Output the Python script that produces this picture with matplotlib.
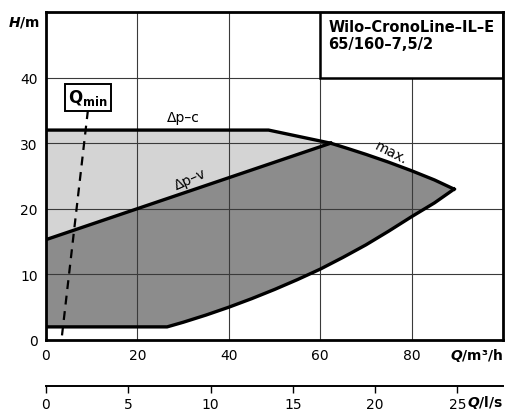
import numpy as np
import matplotlib.pyplot as plt
from matplotlib.patches import Polygon, Rectangle

plt.rcParams['font.family'] = ['DejaVu Sans']
plt.rcParams['mathtext.fontset'] = 'dejavusans'

# curve data (Q in m3/h, H in m)
q_dpc = [0, 48.7, 62.3]
h_dpc = [32, 32, 30]
q_dpv = [0, 62.3]
h_dpv = [15.3, 30]
q_max = [62.3, 66, 70, 75, 80, 85, 89.3]
h_max = [30, 29.2, 28.3, 27.1, 25.8, 24.4, 23]
q_min_curve = [89.3, 85, 80, 75, 70, 65, 60, 55, 50, 45, 40, 35, 30, 26.5, 0]
h_min_curve = [23, 20.9, 18.8, 16.6, 14.5, 12.6, 10.8, 9.2, 7.7, 6.3, 5.0, 3.8, 2.7, 2, 2]
q_qmin = [3.5, 9.2]
h_qmin = [0.7, 35.2]

x_ticks = [0, 20, 40, 60, 80]
y_ticks = [0, 10, 20, 30, 40]
ls_ticks = [0, 5, 10, 15, 20, 25]

title = 'Wilo–CronoLine–IL–E\n65/160–7,5/2'

fig = plt.figure(figsize=(5.07, 4.14), dpi=100)
ax = fig.add_axes([46/507, 1 - 341/414, 457/507, 328/414])
ax.set_xlim(0, 100)
ax.set_ylim(0, 50)

# filled regions
light = list(zip(q_dpc, h_dpc)) + list(zip(q_dpv[::-1], h_dpv[::-1]))
ax.add_patch(Polygon(light, closed=True, facecolor='#d4d4d4', edgecolor='none', zorder=1))
dark = list(zip(q_dpv, h_dpv)) + list(zip(q_max[1:], h_max[1:])) + list(zip(q_min_curve[1:], h_min_curve[1:]))
ax.add_patch(Polygon(dark, closed=True, facecolor='#8c8c8c', edgecolor='none', zorder=1))

# grid
for x in x_ticks[1:]:
    ax.axvline(x, color='#3a3a3a', lw=0.8, zorder=2)
for y in y_ticks[1:]:
    ax.axhline(y, color='#3a3a3a', lw=0.8, zorder=2)

# curves
lw = 2.4
ax.plot(q_dpc, h_dpc, color='black', lw=lw, zorder=3, solid_joinstyle='miter')
ax.plot(q_dpv, h_dpv, color='black', lw=lw, zorder=3)
ax.plot(q_max, h_max, color='black', lw=lw, zorder=3, solid_joinstyle='miter')
ax.plot(q_min_curve, h_min_curve, color='black', lw=lw, zorder=3, solid_joinstyle='round')
ax.plot(q_qmin, h_qmin, color='black', lw=1.6, ls=(0, (4, 3)), zorder=3)

# labels on curves
ax.text(30, 33.0, 'Δp–c', fontsize=10, ha='center', va='bottom', zorder=4)
ax.text(31.5, 24.6, 'Δp–v', fontsize=10, ha='center', va='center', rotation=24, zorder=4)
ax.text(75.5, 28.6, 'max.', fontsize=10, ha='center', va='center', rotation=-27, zorder=4)

# Qmin box
ax.text(9.2, 37.0, r'$\mathbf{Q}_{\mathbf{min}}$', fontsize=12, ha='center', va='center', zorder=5,
        bbox=dict(boxstyle='square,pad=0.2', facecolor='white', edgecolor='black', lw=1.4))

# title box
ax.add_patch(Rectangle((60, 40), 40, 10.5, facecolor='white', edgecolor='black', lw=1.8, zorder=5))
ax.text(61.8, 49.0, title, fontsize=10.5, fontweight='bold', ha='left', va='top',
        linespacing=1.2, zorder=6)

# axes styling
for s in ax.spines.values():
    s.set_linewidth(2)
    s.set_zorder(6)
ax.set_xticks(x_ticks)
ax.set_yticks(y_ticks)
ax.tick_params(length=0, labelsize=10, pad=6)
ax.text(1.0, -0.045, r'$\mathbfit{Q}$/m³/h', transform=ax.transAxes, ha='right', va='center',
        fontsize=10, fontweight='bold')
ax.text(-0.013, 0.972, r'$\mathbfit{H}$/m', transform=ax.transAxes, ha='right', va='center',
        fontsize=10, fontweight='bold')

# secondary axis in l/s
ax2 = fig.add_axes([46/507, 1 - 387/414, 457/507, 0.001])
ax2.set_xlim(0, 100 / 3.6)
ax2.set_ylim(0, 1)
for name in ['top', 'left', 'right']:
    ax2.spines[name].set_visible(False)
ax2.spines['bottom'].set_linewidth(1.4)
ax2.set_yticks([])
ax2.set_xticks(ls_ticks)
ax2.tick_params(axis='x', length=5, width=1, labelsize=10, pad=3)
fig.text(503/507, 1 - 403/414, r'$\mathbfit{Q}$/l/s', ha='right', va='center',
         fontsize=10, fontweight='bold')

fig.savefig('out.png', dpi=100)
